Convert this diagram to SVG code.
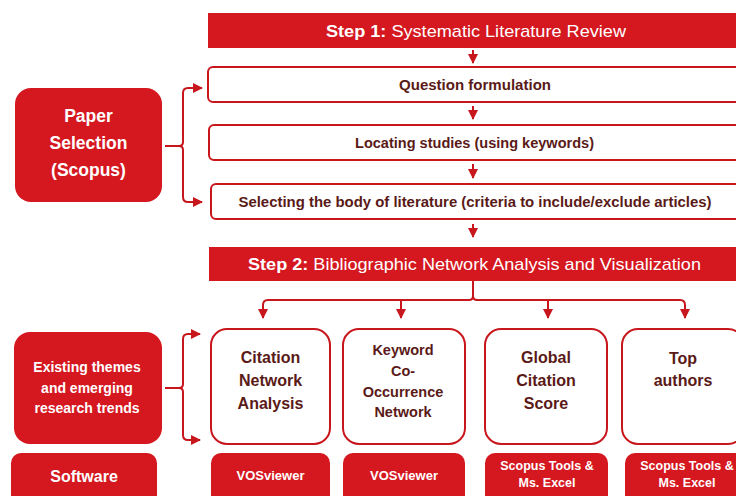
<svg xmlns="http://www.w3.org/2000/svg" width="736" height="496" viewBox="0 0 736 496">
<style>
.bar{fill:#d5171f}
.red{fill:#d5171f}
.box{fill:#ffffff;stroke:#c8161d;stroke-width:2}
.wt{fill:#ffffff;font-family:"Liberation Sans",Arial,sans-serif;font-weight:bold;text-anchor:middle}
.dt{fill:#5a1a17;font-family:"Liberation Sans",Arial,sans-serif;font-weight:bold;text-anchor:middle}
.ttl{fill:#ffffff;font-family:"Liberation Sans",Arial,sans-serif;font-size:17px;text-anchor:middle}
.ln{fill:none;stroke:#c8161d;stroke-width:2;stroke-linejoin:round}
</style>
<defs>
<marker id="ah" viewBox="0 0 10 10" refX="9" refY="5" markerWidth="5" markerHeight="5" orient="auto" markerUnits="strokeWidth">
<path d="M0,0 L10,5 L0,10 Z" fill="#c8161d"/>
</marker>
</defs>
<rect width="736" height="496" fill="#ffffff"/>

<g id="step1">
<rect class="bar" x="208" y="13" width="540" height="35"/>
<text class="ttl" x="476" y="37" textLength="300" lengthAdjust="spacingAndGlyphs"><tspan font-weight="bold">Step 1:</tspan>  Systematic Literature Review</text>
</g>
<g id="question">
<rect class="box" x="208" y="67" width="540" height="35" rx="5"/>
<text class="dt" x="475" y="89.5" font-size="14.5" textLength="152" lengthAdjust="spacingAndGlyphs">Question formulation</text>
</g>
<g id="locating">
<rect class="box" x="209" y="125" width="540" height="35" rx="5"/>
<text class="dt" x="474.5" y="147.5" font-size="14.5" textLength="239" lengthAdjust="spacingAndGlyphs">Locating studies (using keywords)</text>
</g>
<g id="selecting">
<rect class="box" x="211" y="184" width="540" height="35" rx="5"/>
<text class="dt" x="475" y="206.5" font-size="14.5" textLength="473" lengthAdjust="spacingAndGlyphs">Selecting the body of literature (criteria to include/exclude articles)</text>
</g>
<g id="step2">
<rect class="bar" x="209" y="247" width="540" height="34"/>
<text class="ttl" x="474.5" y="270" textLength="453" lengthAdjust="spacingAndGlyphs"><tspan font-weight="bold">Step 2:</tspan> Bibliographic Network Analysis and Visualization</text>
</g>

<g id="paper-selection">
<rect class="red" x="15" y="88" width="147" height="114" rx="16"/>
<text class="wt" font-size="17.5" x="88.5" y="122">Paper</text>
<text class="wt" font-size="17.5" x="88.5" y="149">Selection</text>
<text class="wt" font-size="17.5" x="88.5" y="176">(Scopus)</text>
</g>
<g id="existing-themes">
<rect class="red" x="14" y="332" width="148" height="112" rx="16"/>
<text class="wt" font-size="14" x="87" y="372">Existing themes</text>
<text class="wt" font-size="14" x="87" y="393">and emerging</text>
<text class="wt" font-size="14" x="87" y="413">research trends</text>
</g>

<g id="citation-network">
<rect class="box" x="211" y="329" width="119" height="115" rx="16"/>
<text class="dt" font-size="16" x="270.5" y="363">Citation</text>
<text class="dt" font-size="16" x="270.5" y="386">Network</text>
<text class="dt" font-size="16" x="270.5" y="409">Analysis</text>
</g>
<g id="keyword-cooccurrence">
<rect class="box" x="343" y="329" width="122" height="115" rx="16"/>
<text class="dt" font-size="14.5" x="403" y="355">Keyword</text>
<text class="dt" font-size="14.5" x="403" y="376">Co-</text>
<text class="dt" font-size="14.5" x="403" y="397">Occurrence</text>
<text class="dt" font-size="14.5" x="403" y="417">Network</text>
</g>
<g id="global-citation">
<rect class="box" x="485" y="329" width="122" height="115" rx="16"/>
<text class="dt" font-size="16" x="546" y="363">Global</text>
<text class="dt" font-size="16" x="546" y="386">Citation</text>
<text class="dt" font-size="16" x="546" y="409">Score</text>
</g>
<g id="top-authors">
<rect class="box" x="622" y="329" width="122" height="115" rx="16"/>
<text class="dt" font-size="16" x="683" y="364">Top</text>
<text class="dt" font-size="16" x="683" y="386">authors</text>
</g>

<g id="software">
<rect class="red" x="11" y="453" width="146" height="55" rx="10"/>
<text class="wt" font-size="16" x="84" y="482">Software</text>
</g>
<g id="sw-citation">
<rect class="red" x="211" y="453" width="119" height="55" rx="10"/>
<text class="wt" font-size="13" x="270.5" y="480">VOSviewer</text>
</g>
<g id="sw-keyword">
<rect class="red" x="343" y="453" width="122" height="55" rx="10"/>
<text class="wt" font-size="13" x="404" y="480">VOSviewer</text>
</g>
<g id="sw-global">
<rect class="red" x="485" y="453" width="123" height="55" rx="10"/>
<text class="wt" font-size="12.5" x="547" y="470">Scopus Tools &amp;</text>
<text class="wt" font-size="12.5" x="547" y="487">Ms. Excel</text>
</g>
<g id="sw-top">
<rect class="red" x="625" y="453" width="123" height="55" rx="10"/>
<text class="wt" font-size="12.5" x="687" y="470">Scopus Tools &amp;</text>
<text class="wt" font-size="12.5" x="687" y="487">Ms. Excel</text>
</g>

<g id="connectors">
<path class="ln" d="M473 50 V63" marker-end="url(#ah)"/>
<path class="ln" d="M473 106 V119" marker-end="url(#ah)"/>
<path class="ln" d="M473 164 V178" marker-end="url(#ah)"/>
<path class="ln" d="M473 224 V237" marker-end="url(#ah)"/>
<path class="ln" d="M165 146 H179 Q183 146 183 142 V93 Q183 88 188 88 H202" marker-end="url(#ah)"/>
<path class="ln" d="M179 146 Q183 146 183 150 V197 Q183 202 188 202 H202" marker-end="url(#ah)"/>
<path class="ln" d="M165 388 H179 Q183 388 183 384 V339 Q183 334 188 334 H200" marker-end="url(#ah)"/>
<path class="ln" d="M179 388 Q183 388 183 392 V435 Q183 440 188 440 H200" marker-end="url(#ah)"/>
<path class="ln" d="M473 281 V296 Q473 300 469 300 H268 Q263 300 263 305 V318" marker-end="url(#ah)"/>
<path class="ln" d="M473 296 Q473 300 477 300 H680 Q685 300 685 305 V318" marker-end="url(#ah)"/>
<path class="ln" d="M401 300 V318" marker-end="url(#ah)"/>
<path class="ln" d="M548 300 V318" marker-end="url(#ah)"/>
</g>
</svg>
